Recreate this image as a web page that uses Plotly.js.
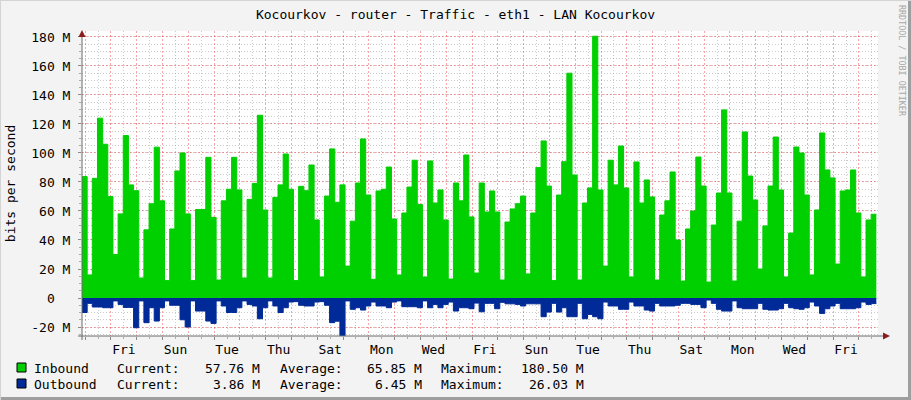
<!DOCTYPE html>
<html><head><meta charset="utf-8">
<script src="https://cdn.plot.ly/plotly-3.0.1.min.js"></script>
<style>html,body{margin:0;padding:0;background:#F3F3F3;}#chart{width:911px;height:400px;}</style>
</head><body><div id="chart"></div>
<script>
// ---- data (Mbit/s, one value per 4.8-hour step) ----
const inbound = [83.7,15.9,82.5,124,106,70,30,58,112,78,74,13.8,47,65,104,67,12,47.6,87.6,100,58,12,61,61,97,55.6,12.4,
  67,75,97,74.5,13.8,68,79,126,60.7,13.8,69.4,78,99.3,75,12,77,74,91.7,53.8,14.5,70.3,102.8,66,78,22,53,
  79.3,109.7,71,12.9,73.8,75,90.3,54.5,15.9,58.6,76.5,95,64.4,14.5,94.5,65.5,74.5,53.8,13.1,79.3,67,98.6,55.9,17.2,79.3,59.3,
  73.8,59.3,12.4,52.4,61.4,65,70.3,16.6,58.6,89.9,108.3,77.2,12,71,94,155,84.8,12.4,65.5,75.9,180.5,74.5,22,95,78,104.8,
  75.9,14.5,93.8,65.5,81.4,69.7,12.4,57.2,67,86.9,40,11.7,47.6,60,97.2,77.2,11,50.3,72.4,129.7,72.4,11.7,53,114.5,84.1,67.6,
  20,49.7,77.2,111,74.5,14.5,44.8,104.1,100,71,15.9,60.7,113.8,88.3,82.8,23.4,73.8,74.5,88.3,58.6,14.5,53.8,57.76];
const outbound = [10,3.7,6.2,6.2,6.7,6.7,2,4.4,6.5,6.5,
  20.5,2,17,6.7,15.9,6.7,2,5,5,15,
  20,2,9,9,15.9,17.5,2,5.5,10,10,
  6.7,2,4.4,5.5,14.3,6.7,2,5.5,10,6.7,
  2.8,2.5,5,5.5,5.5,2.8,2.5,5,17,16,
  26,2,7.8,6.7,8.3,5.5,2.8,5.5,5.5,6.7,
  2.8,2,6,6,6,6.7,2,6.7,4.4,6.7,
  4.4,2.8,9,6.7,6.7,7.4,3.5,9.5,3.7,3.7,
  7.4,3,4,4,4.4,5.5,4,4,4,12.9,
  9.7,3.7,9.7,6.7,12.9,12.9,3.7,14.3,11.3,12.9,
  14.3,2.8,5.5,5.5,7.8,7.8,2.8,5.5,5.5,8.3,
  9,3.7,5.5,5.5,5.5,5,3.7,3.7,4.4,4.4,
  6.7,1.4,3.7,7.8,9,9,2,6.7,7.4,7.4,
  7.4,3.7,7.8,8.3,8.3,7.4,3.7,6.7,7.4,7.8,
  6.7,2.8,5.5,10.6,7.4,5.5,3.7,7.4,7.4,7.4,
  6.7,2.8,4.4,3.86];
const dayLabels = ['Fri','Sun','Tue','Thu','Sat','Mon','Wed','Fri','Sun','Tue','Thu','Sat','Mon','Wed','Fri'];
const dayLabelPos = [1.5,3.5,5.5,7.5,9.5,11.5,13.5,15.5,17.5,19.5,21.5,23.5,25.5,27.5,29.5];
const yTickVals = [-20,0,20,40,60,80,100,120,140,160,180];
const yTickText = ['-20 M','0\u00A0\u00A0','20 M','40 M','60 M','80 M','100 M','120 M','140 M','160 M','180 M'];
const legendNames = ['Inbound','Outbound'];
const legendCurrent = ['57.76 M','3.86 M'];
const legendAverage = ['65.85 M','6.45 M'];
const legendMaximum = ['180.50 M','26.03 M'];
const titleText = 'Kocourkov - router - Traffic - eth1 - LAN Kocourkov';
const yTitle = 'bits per second';
const watermark = 'RRDTOOL / TOBI OETIKER';

// ---- time grid ----
const startDay = -0.124, stepDays = 0.2, dayPx = 25.79;
const t = [];
for (let k = 0; k <= inbound.length; k++) t.push(startDay + k * stepDays);
const inY = inbound.concat([inbound[inbound.length - 1]]);
const outY = outbound.map(v => -v).concat([-outbound[outbound.length - 1]]);

const W = 911, H = 400, L = 82, R = 33, T = 31, B = 64;
const plotW = W - L - R, plotH = H - T - B;
const fx = px => (px - L) / plotW;
const fy = py => (H - B - py) / plotH;
const xRange = [startDay, startDay + plotW / dayPx];
const FONT = 'DejaVu Sans Mono';
const GREEN = '#00CF00', BLUE = '#002A97';

const traces = [
  {x: t, y: inY, type: 'scatter', mode: 'lines', line: {shape: 'hv', width: 1, color: GREEN, simplify: false},
   fill: 'tozeroy', fillcolor: GREEN, hoverinfo: 'skip'},
  {x: t, y: outY, type: 'scatter', mode: 'lines', line: {shape: 'hv', width: 1, color: BLUE, simplify: false},
   fill: 'tozeroy', fillcolor: BLUE, hoverinfo: 'skip'},
  {x: [dayLabelPos[0]], y: [null], xaxis: 'x2', type: 'scatter', mode: 'markers', hoverinfo: 'skip'}
];

const shapes = [
  // frame
  {type: 'line', xref: 'paper', yref: 'paper', x0: fx(909.5), x1: fx(909.5), y0: fy(0), y1: fy(400), line: {color: '#9E9E9E', width: 3}},
  {type: 'line', xref: 'paper', yref: 'paper', x0: fx(0), x1: fx(911), y0: fy(398.5), y1: fy(398.5), line: {color: '#9E9E9E', width: 3}},
  {type: 'line', xref: 'paper', yref: 'paper', x0: fx(0.5), x1: fx(0.5), y0: fy(0), y1: fy(400), line: {color: '#D4D4D4', width: 1}},
  {type: 'line', xref: 'paper', yref: 'paper', x0: fx(0), x1: fx(911), y0: fy(0.5), y1: fy(0.5), line: {color: '#D4D4D4', width: 1}},
  // axes
  {type: 'line', xref: 'paper', yref: 'paper', x0: fx(78), x1: fx(884), y0: fy(336), y1: fy(336), line: {color: '#6A6A6A', width: 1}},
  {type: 'line', xref: 'paper', yref: 'paper', x0: fx(82), x1: fx(82), y0: fy(340), y1: fy(35), line: {color: '#6A6A6A', width: 1}},
  {type: 'path', xref: 'paper', yref: 'paper', fillcolor: '#8A1E1E', line: {width: 0},
   path: `M${fx(883)},${fy(332.5)} L${fx(890)},${fy(336)} L${fx(883)},${fy(339.5)} Z`},
  {type: 'path', xref: 'paper', yref: 'paper', fillcolor: '#8A1E1E', line: {width: 0},
   path: `M${fx(78.5)},${fy(37)} L${fx(82)},${fy(30)} L${fx(85.5)},${fy(37)} Z`},
  // legend swatches
  {type: 'rect', xref: 'paper', yref: 'paper', x0: fx(17), x1: fx(26), y0: fy(372), y1: fy(363), fillcolor: GREEN, line: {color: '#000', width: 1}},
  {type: 'rect', xref: 'paper', yref: 'paper', x0: fx(17), x1: fx(26), y0: fy(388), y1: fy(379), fillcolor: BLUE, line: {color: '#000', width: 1}}
];

const annFont = {family: FONT, size: 13, color: '#000'};
const annotations = [];
const rowY = [368, 384];
for (let i = 0; i < 2; i++) {
  const y = fy(rowY[i]);
  const base = {xref: 'paper', yref: 'paper', y: y, yanchor: 'middle', showarrow: false, font: annFont, borderpad: 0};
  annotations.push(Object.assign({}, base, {x: fx(33), xanchor: 'left', text: legendNames[i]}));
  annotations.push(Object.assign({}, base, {x: fx(116), xanchor: 'left', text: 'Current:'}));
  annotations.push(Object.assign({}, base, {x: fx(261), xanchor: 'right', text: legendCurrent[i]}));
  annotations.push(Object.assign({}, base, {x: fx(278.5), xanchor: 'left', text: 'Average:'}));
  annotations.push(Object.assign({}, base, {x: fx(423), xanchor: 'right', text: legendAverage[i]}));
  annotations.push(Object.assign({}, base, {x: fx(440), xanchor: 'left', text: 'Maximum:'}));
  annotations.push(Object.assign({}, base, {x: fx(585), xanchor: 'right', text: legendMaximum[i]}));
}
annotations.push({xref: 'paper', yref: 'paper', x: fx(902), y: fy(61), xanchor: 'center', yanchor: 'middle',
  textangle: 90, showarrow: false, text: watermark, font: {family: FONT, size: 8.4, color: '#A8A8A8'}});

const layout = {
  width: W, height: H,
  margin: {l: L, r: R, t: T, b: B, pad: 0},
  paper_bgcolor: '#F3F3F3', plot_bgcolor: '#FFFFFF',
  showlegend: false,
  font: {family: FONT, size: 13, color: '#000'},
  title: {text: titleText, x: 0.5, xanchor: 'center', xref: 'container', y: 1 - 14 / H, yanchor: 'middle', yref: 'container',
    font: {family: FONT, size: 13, color: '#000'}},
  xaxis: {range: xRange, tickmode: 'linear', tick0: 0, dtick: 1, showticklabels: false,
    showgrid: true, gridcolor: 'rgba(235,60,60,0.45)', griddash: '2px,2px', gridwidth: 1,
    ticks: 'outside', ticklen: 3, tickcolor: '#8A8A8A', zeroline: false, showline: false,
    minor: {tick0: 0, dtick: 0.5, showgrid: true, gridcolor: 'rgba(140,140,140,0.45)', griddash: '1px,2px',
      ticks: 'outside', ticklen: 2, tickcolor: '#AAAAAA'}},
  xaxis2: {overlaying: 'x', matches: 'x', anchor: 'y', side: 'bottom', range: xRange,
    tickmode: 'array', tickvals: dayLabelPos, ticktext: dayLabels, ticks: '', showgrid: false,
    zeroline: false, showline: false, ticklabelstandoff: 4, tickfont: {family: FONT, size: 13, color: '#000'}},
  yaxis: {range: [-26.2, 184.1], tickmode: 'array', tickvals: yTickVals, ticktext: yTickText,
    showgrid: true, gridcolor: 'rgba(235,60,60,0.45)', griddash: '2px,2px', gridwidth: 1,
    ticks: 'outside', ticklen: 3, tickcolor: '#8A8A8A', zeroline: false, showline: false,
    ticklabelstandoff: 5, tickfont: {family: FONT, size: 13, color: '#000'},
    title: {text: yTitle, standoff: 12, font: {family: FONT, size: 13, color: '#000'}},
    minor: {tickmode: 'linear', tick0: 0, dtick: 5, showgrid: true, gridcolor: 'rgba(140,140,140,0.45)', griddash: '1px,2px',
      ticks: 'outside', ticklen: 2, tickcolor: '#AAAAAA'}},
  shapes: shapes,
  annotations: annotations
};

Plotly.newPlot('chart', traces, layout, {staticPlot: true, displayModeBar: false});
</script>
</body></html>
